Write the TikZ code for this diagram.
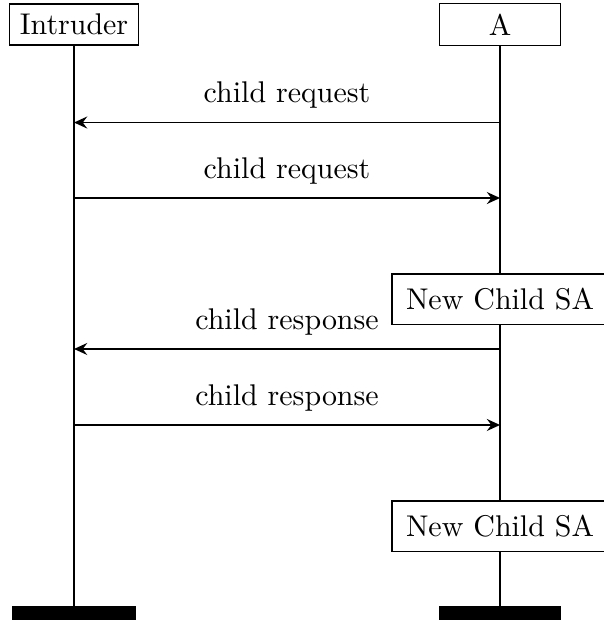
\documentclass[tikz,border=0pt]{standalone}
\usepackage{tikz}
\usetikzlibrary{calc}
\usetikzlibrary{arrows.meta}

\tikzset{
  head/.style = {draw, inner sep = .333em},
  lifeline/.style = {line width = .9pt},
  msg/.style = {line width = .6pt, -{Stealth[length = 4.4pt, width = 4pt, inset = 1.5pt]}},
  newsa/.style = {draw, fill = white, inner sep = 4.7pt},
  foot/.style = {fill = black}
}

\begin{document}
\begin{tikzpicture}
  \useasboundingbox (-.869,0) rectangle (6.22,-7.277);

% heads
  \node[head] (intruder) at (0,-.288) {Intruder};
  \node[head, minimum width = 1.42cm] (a) at (5,-.288) {A};

% lifelines
  \node[shape = coordinate] (intruderEnd) at (0,-7.113) {};
  \node[shape = coordinate] (aEnd) at (5,-7.113) {};
  \draw[lifeline] (intruder) -- (intruderEnd);
  \draw[lifeline] (a) -- (aEnd);
  \fill[foot] ($(intruderEnd) + (-.728,0)$) rectangle ($(intruderEnd) + (.728,-.17)$);
  \fill[foot] ($(aEnd) + (-.715,0)$) rectangle ($(aEnd) + (.715,-.17)$);

% messages
  \node[shape = coordinate] (aReq) at (5,-1.438) {};
  \node[shape = coordinate] (iReq) at (aReq -| intruder) {};
  \draw[msg] (aReq) -- (iReq) node[midway, above = 1pt] {child request};

  \node[shape = coordinate] (iFwd) at (0,-2.324) {};
  \node[shape = coordinate] (aFwd) at (iFwd -| a) {};
  \draw[msg] (iFwd) -- (aFwd) node[midway, above = 1pt] {child request};

  \node[newsa] (sa1) at (5,-3.51) {New Child SA};

  \node[shape = coordinate] (aResp) at (5,-4.096) {};
  \node[shape = coordinate] (iResp) at (aResp -| intruder) {};
  \draw[msg] (aResp) -- (iResp) node[midway, above = 1pt] {child response};

  \node[shape = coordinate] (iBack) at (0,-4.988) {};
  \node[shape = coordinate] (aBack) at (iBack -| a) {};
  \draw[msg] (iBack) -- (aBack) node[midway, above = 1pt] {child response};

  \node[newsa] (sa2) at (5,-6.174) {New Child SA};

\end{tikzpicture}
\end{document}
